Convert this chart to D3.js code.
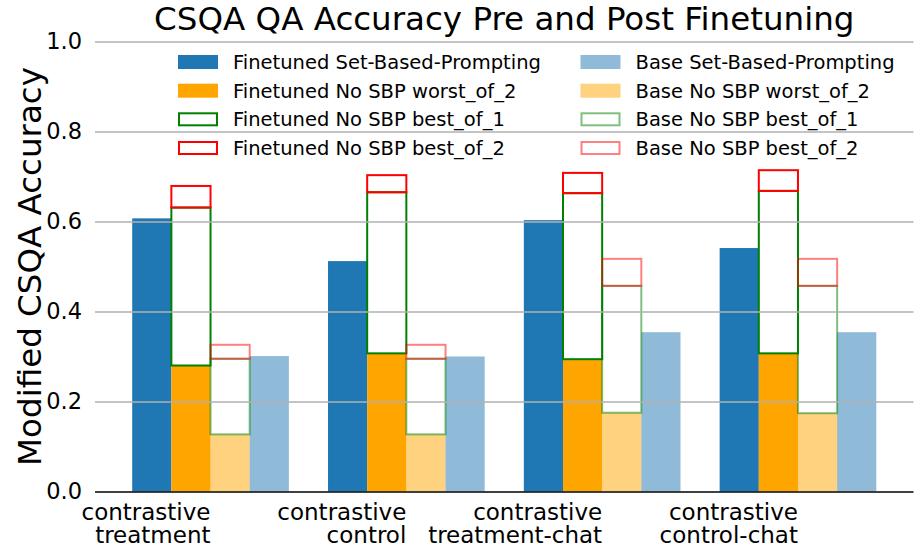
<!DOCTYPE html>
<html>
<head>
<meta charset="utf-8">
<script src="https://cdn.jsdelivr.net/npm/d3@7"></script>
<style>
  html, body { margin: 0; padding: 0; background: #fff; }
  svg { display: block; font-family: "DejaVu Sans", sans-serif; }
</style>
</head>
<body>
<svg id="chart" width="914" height="548"></svg>
<script>
const categories = ["contrastive\ntreatment", "contrastive\ncontrol", "contrastive\ntreatment-chat", "contrastive\ncontrol-chat"];
const ftSBP      = [0.607, 0.512, 0.603, 0.541];
const ftWorst2   = [0.280, 0.307, 0.294, 0.307];
const ftBest1    = [0.631, 0.665, 0.663, 0.668];
const ftBest2    = [0.679, 0.703, 0.708, 0.714];
const baseSBP    = [0.301, 0.300, 0.354, 0.354];
const baseWorst2 = [0.127, 0.127, 0.175, 0.174];
const baseBest1  = [0.295, 0.295, 0.457, 0.457];
const baseBest2  = [0.326, 0.326, 0.517, 0.517];
const yTicks = [0, 0.2, 0.4, 0.6, 0.8, 1.0];
const legendLabels = [
  "Finetuned Set-Based-Prompting", "Finetuned No SBP worst_of_2",
  "Finetuned No SBP best_of_1", "Finetuned No SBP best_of_2",
  "Base Set-Based-Prompting", "Base No SBP worst_of_2",
  "Base No SBP best_of_1", "Base No SBP best_of_2"
];

const svg = d3.select("#chart");
const pLeft = 95, pRight = 913.5, pTop = 41.5, pBottom = 491.5;
const x = d3.scaleLinear().domain([-0.59, 3.59]).range([pLeft, pRight]);
const y = d3.scaleLinear().domain([0, 1]).range([pBottom, pTop]);
const bw = 0.2;
const idx = d3.range(categories.length);

const blue = "#1f77b4", orange = "#ffa500";

function filled(vals, off, color, op) {
  svg.append("g").selectAll("rect").data(idx).join("rect")
    .attr("x", i => x(i + off - bw / 2))
    .attr("width", x(bw) - x(0))
    .attr("y", i => y(vals[i]))
    .attr("height", i => y(0) - y(vals[i]))
    .attr("fill", color).attr("fill-opacity", op);
}
filled(ftSBP, -0.3, blue, 1);
filled(ftWorst2, -0.1, orange, 1);
filled(baseWorst2, 0.1, orange, 0.5);
filled(baseSBP, 0.3, blue, 0.5);

function boxes(lo, hi, off, color, op) {
  svg.append("g").selectAll("rect").data(idx).join("rect")
    .attr("x", i => x(i + off - bw / 2))
    .attr("width", x(bw) - x(0))
    .attr("y", i => y(hi[i]))
    .attr("height", i => y(lo[i]) - y(hi[i]))
    .attr("fill", "none").attr("stroke", color).attr("stroke-opacity", op)
    .attr("stroke-width", 2);
}
boxes(ftWorst2, ftBest1, -0.1, "#008000", 1);
boxes(ftBest1, ftBest2, -0.1, "#ff0000", 1);
boxes(baseWorst2, baseBest1, 0.1, "#008000", 0.5);
boxes(baseBest1, baseBest2, 0.1, "#ff0000", 0.5);

const yAxis = d3.axisLeft(y).tickValues(yTicks).tickFormat(d3.format(".1f"))
  .tickSize(-(pRight - pLeft)).tickPadding(13);
const gy = svg.append("g").attr("transform", `translate(${pLeft},0)`).call(yAxis);
gy.select(".domain").remove();
gy.selectAll(".tick line").attr("stroke", "#b0b0b0").attr("stroke-width", 1.3);
gy.selectAll(".tick text").attr("font-size", 22.5).attr("fill", "#000")
  .attr("font-family", "DejaVu Sans, sans-serif");
gy.selectAll(".tick").filter(d => d === 0).select("line").attr("stroke", "#000").attr("stroke-width", 1.6);

const xl = svg.append("g");
idx.forEach(i => {
  const t = xl.append("text").attr("text-anchor", "end").attr("font-size", 23).attr("fill", "#000");
  categories[i].split("\n").forEach((line, k) => {
    t.append("tspan").attr("x", x(i)).attr("y", 519.5 + k * 23.5).text(line);
  });
});

svg.append("text").attr("x", (pLeft + pRight) / 2).attr("y", 30)
  .attr("text-anchor", "middle").attr("font-size", 32.5).attr("fill", "#000")
  .text("CSQA QA Accuracy Pre and Post Finetuning");

svg.append("text").attr("transform", `translate(41,${(pTop + pBottom) / 2}) rotate(-90)`)
  .attr("text-anchor", "middle").attr("font-size", 32.5).attr("fill", "#000")
  .text("Modified CSQA Accuracy");

const legendStyles = [
  {fill: blue, op: 1}, {fill: orange, op: 1},
  {stroke: "#008000", op: 1}, {stroke: "#ff0000", op: 1},
  {fill: blue, op: 0.5}, {fill: orange, op: 0.5},
  {stroke: "#008000", op: 0.5}, {stroke: "#ff0000", op: 0.5}
];
const colX = [178, 580.5];
const rowY = [62, 90.7, 119.3, 148];
const lg = svg.append("g");
legendLabels.forEach((lab, k) => {
  const c = Math.floor(k / 4), r = k % 4;
  const s = legendStyles[k];
  const rect = lg.append("rect").attr("x", colX[c]).attr("y", rowY[r] - 7)
    .attr("width", 40).attr("height", 14);
  if (s.fill) rect.attr("fill", s.fill).attr("fill-opacity", s.op);
  else rect.attr("fill", "none").attr("stroke", s.stroke).attr("stroke-opacity", s.op)
    .attr("stroke-width", 2).attr("x", colX[c] + 1).attr("width", 38).attr("y", rowY[r] - 6).attr("height", 12);
  lg.append("text").attr("x", colX[c] + 55).attr("y", rowY[r]).attr("dy", "0.35em")
    .attr("font-size", 19.5).attr("fill", "#000").text(lab);
});
</script>
</body>
</html>
